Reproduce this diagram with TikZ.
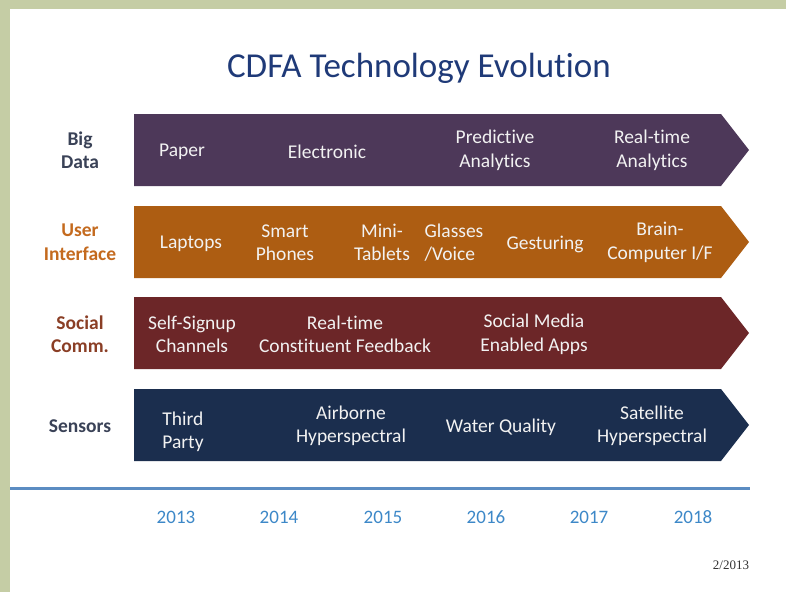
\documentclass[tikz,border=0pt]{standalone}
\usepackage{fontspec}
\setmainfont{Carlito}[Ligatures=NoCommon]
\newfontfamily\serifdate{Liberation Serif}
\definecolor{bordergreen}{HTML}{C5CDA5}
\definecolor{titleblue}{HTML}{1F3A78}
\definecolor{bdpurple}{HTML}{4D3859}
\definecolor{uiorange}{HTML}{AD5D12}
\definecolor{scred}{HTML}{6C2628}
\definecolor{snnavy}{HTML}{1B2E4E}
\definecolor{lblslate}{HTML}{3A4257}
\definecolor{lblorange}{HTML}{C46A1E}
\definecolor{lblbrown}{HTML}{8A3E25}
\definecolor{lineblue}{HTML}{5B8CC2}
\definecolor{yearblue}{HTML}{3D88C8}
\definecolor{txtwhite}{HTML}{F2F2F2}
\tikzset{
  bandtxt/.style={text=txtwhite, align=center, inner sep=0pt, yshift=-2pt, font=\fontsize{19.5}{23.5}\selectfont},
  rowlbl/.style={align=center, inner sep=0pt, yshift=-1.5pt, font=\fontsize{19.5}{23.5}\selectfont\bfseries},
  yearlbl/.style={text=yearblue, inner sep=0pt, font=\fontsize{19}{22}\selectfont},
}
\newcommand{\bandarrow}[2]{%
  \fill[#1] (134,#2-36) -- (721,#2-36) -- (749,#2) -- (721,#2+36) -- (134,#2+36) -- cycle;}
\begin{document}
\begin{tikzpicture}[x=1pt,y=-1pt]
\useasboundingbox (0,0) rectangle (786,592);
\fill[white] (0,0) rectangle (786,592);
\fill[bordergreen] (0,0) rectangle (786,9);
\fill[bordergreen] (0,0) rectangle (10,592);

\node[text=titleblue, inner sep=0pt, font=\fontsize{35}{40}\selectfont] (title) at (419,68) {CDFA Technology Evolution};

% bands
\bandarrow{bdpurple}{150}
\bandarrow{uiorange}{242}
\bandarrow{scred}{333}
\bandarrow{snnavy}{425}

% row labels
\node[rowlbl, text=lblslate] (lbig) at (80,148.5) {Big\\Data};
\node[rowlbl, text=lblorange] (lui) at (80,240.5) {User\\Interface};
\node[rowlbl, text=lblbrown] (lsc) at (80,332.5) {Social\\Comm.};
\node[rowlbl, text=lblslate] (lsn) at (80,425) {Sensors};

% Big Data
\node[bandtxt] (paper) at (182,150) {Paper};
\node[bandtxt] (elec) at (327,150) {Electronic};
\node[bandtxt] (pred) at (495,148.5) {Predictive\\Analytics};
\node[bandtxt] (rta) at (652,148.5) {Real-time\\Analytics};

% User Interface
\node[bandtxt] (lap) at (191,242) {Laptops};
\node[bandtxt] (smart) at (285,240.5) {Smart\\Phones};
\node[bandtxt] (mini) at (382,240.5) {Mini-\\Tablets};
\node[bandtxt, align=left] (glass) at (454,240.5) {Glasses\\/Voice};
\node[bandtxt] (gest) at (545,242) {Gesturing};
\node[bandtxt] (brain) at (660,240.5) {Brain-\\Computer I/F};

% Social Comm
\node[bandtxt] (self) at (192,332.5) {Self-Signup\\Channels};
\node[bandtxt] (rtc) at (345,332.5) {Real-time\\Constituent Feedback};
\node[bandtxt] (smea) at (534,332.5) {Social Media\\Enabled Apps};

% Sensors
\node[bandtxt, align=left] (third) at (183,430) {Third\\Party};
\node[bandtxt] (air) at (351,424) {Airborne\\Hyperspectral};
\node[bandtxt] (water) at (501,425) {Water Quality};
\node[bandtxt] (sat) at (652,424) {Satellite\\Hyperspectral};

% timeline
\coordinate (tl0) at (10,488);
\coordinate (tl1) at (750,488);
\draw[lineblue, line width=3pt] (tl0) -- (tl1);

\node[yearlbl] (y13) at (176,517) {2013};
\node[yearlbl] (y14) at (279,517) {2014};
\node[yearlbl] (y15) at (383,517) {2015};
\node[yearlbl] (y16) at (486,517) {2016};
\node[yearlbl] (y17) at (589,517) {2017};
\node[yearlbl] (y18) at (693,517) {2018};

\node[inner sep=0pt, text=black!80, font=\serifdate\fontsize{13}{15}\selectfont] (date) at (731,565) {2/2013};
\end{tikzpicture}
\end{document}
